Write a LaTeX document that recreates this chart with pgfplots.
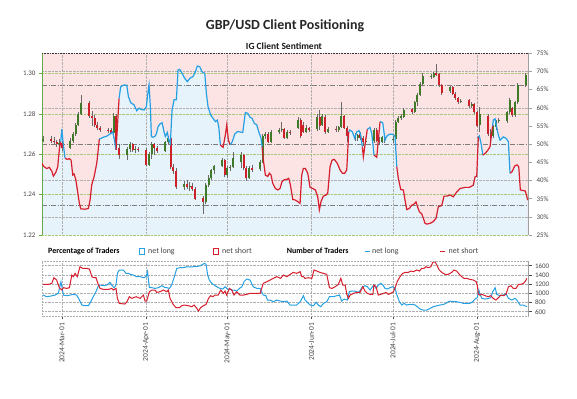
\documentclass[border=0pt]{standalone}
\usepackage{pgfplots}
\pgfplotsset{compat=1.18}
\usepackage{pgfplotstable}
\usepackage{fontspec}
\setmainfont{Carlito}

\definecolor{pinkbg}{RGB}{252,228,229}
\definecolor{bluebg}{RGB}{230,243,251}
\definecolor{lineblue}{RGB}{38,160,228}
\definecolor{linered}{RGB}{214,30,45}
\definecolor{candleup}{RGB}{62,122,40}
\definecolor{candledn}{RGB}{206,32,40}
\definecolor{wick}{RGB}{105,105,105}
\definecolor{axgreen}{RGB}{100,170,70}
\definecolor{gridgreen}{RGB}{165,200,120}
\definecolor{gridgray}{RGB}{175,175,175}
\definecolor{labgray}{RGB}{70,70,70}
\definecolor{ddgray}{RGB}{125,125,125}

\tikzset{dashdotline/.style={ddgray, line width=0.7bp, dash pattern=on 5bp off 1.5bp on 1bp off 1.5bp}}

% net long percentage (day 0 = 2024-03-01)
\pgfplotstableread{
d p
-7.49 44.7
-6.64 43.8
-5.64 43.3
-4.68 43.6
-3.80 42.6
-3.21 41.2
-2.32 42.2
-1.59 43.8
-1.00 48.6
-0.48 50.7
-0.11 54.1
0.48 49.8
1.11 46.1
1.95 45.8
2.69 46.0
3.32 45.6
3.95 41.5
4.42 41.8
5.05 40.3
5.64 37.4
6.38 33.7
6.90 32.2
8.48 32.1
9.70 32.3
10.32 34.6
10.95 38.8
11.80 41.0
12.79 44.7
13.38 48.8
13.75 51.4
15.23 51.9
16.48 52.2
17.70 52.8
18.69 53.4
19.28 51.3
19.91 48.4
21.02 62.6
21.64 65.8
22.86 66.3
23.86 66.2
24.45 63.1
25.33 61.4
26.55 60.8
27.54 59.2
28.39 59.9
29.02 59.6
30.24 59.4
31.08 60.3
31.71 64.4
32.08 66.3
32.56 60.3
32.93 52.1
33.55 51.9
34.18 52.1
34.77 52.8
35.40 54.8
36.03 55.5
36.87 55.9
37.61 53.4
38.09 52.1
38.83 53.2
39.34 51.2
39.93 50.2
40.56 59.4
41.30 62.2
42.15 62.2
42.77 70.4
43.40 70.6
44.25 69.5
45.24 68.1
46.20 67.2
47.09 68.1
48.30 68.6
49.15 69.9
49.89 71.5
50.77 71.3
51.62 69.9
52.62 69.5
53.21 64.0
53.83 60.3
54.83 58.0
55.68 57.1
56.53 56.2
57.26 56.6
57.78 54.8
58.37 49.8
59.37 49.1
60.21 52.5
60.73 55.3
61.32 51.2
61.95 49.8
62.79 50.7
63.68 52.8
64.64 53.4
65.38 53.4
66.63 53.2
67.59 58.7
68.47 58.5
69.32 57.4
70.06 57.1
70.91 55.7
71.79 55.3
72.53 53.4
73.38 51.6
73.75 49.3
74.23 45.6
74.96 41.5
75.85 41.1
76.44 42.0
77.06 41.5
77.69 39.2
78.65 37.8
79.54 37.4
80.38 37.8
81.12 39.7
81.97 40.2
82.85 40.3
83.59 40.6
84.18 38.8
85.07 34.8
86.03 34.6
86.91 34.2
87.76 33.7
88.38 41.5
88.97 43.3
89.71 43.3
90.60 42.0
91.45 38.1
92.44 37.8
93.40 37.4
94.28 35.5
94.87 31.9
95.50 34.2
96.35 35.7
97.35 36.0
97.97 36.5
98.82 43.8
99.56 45.6
100.41 45.8
101.51 44.7
102.51 42.9
103.36 42.0
104.24 42.0
104.98 42.9
105.71 53.4
106.08 53.9
107.04 53.4
107.93 51.6
108.67 53.4
109.51 53.7
110.14 52.5
110.73 49.3
111.10 46.5
111.99 51.2
112.57 54.1
113.57 54.6
114.20 53.0
115.04 47.0
116.04 46.4
116.63 51.1
117.26 56.2
118.25 55.9
119.10 51.1
119.73 52.2
120.69 52.7
121.94 52.7
122.79 52.2
123.42 43.8
124.00 40.6
124.89 37.5
125.85 37.4
126.47 34.6
127.10 32.0
128.06 32.3
128.95 33.2
129.79 33.5
130.53 34.1
131.01 32.9
131.75 31.4
132.63 30.8
133.22 29.6
133.85 28.2
134.48 28.0
135.69 28.2
136.91 28.7
137.91 29.6
138.75 32.8
140.00 33.1
140.86 35.7
141.85 35.7
143.07 36.0
144.29 35.5
145.28 36.6
146.76 37.8
148.60 38.1
150.18 38.1
151.66 38.7
152.29 41.0
152.91 41.2
153.50 52.0
153.87 52.3
154.61 49.8
155.13 47.0
156.08 47.5
157.08 48.4
157.82 49.3
158.74 55.0
159.03 56.6
159.66 57.0
160.88 52.5
161.50 51.1
162.72 52.0
163.72 51.6
164.57 50.7
165.19 42.0
165.93 42.4
166.92 44.0
167.77 44.3
168.40 43.8
168.99 37.4
170.24 37.2
170.83 37.1
171.72 34.6
}\sent

% GBP/USD daily candles: day open high low close
\pgfplotstableread{
d o h l c
-7 1.2668 1.2688 1.2660 1.2676
-4 1.2676 1.2690 1.2655 1.2668
-3 1.2668 1.2685 1.2652 1.2660
-2 1.2660 1.2672 1.2638 1.2650
-1 1.2650 1.2675 1.2630 1.2655
0 1.2655 1.2665 1.2615 1.2630
3 1.2630 1.2680 1.2625 1.2665
4 1.2665 1.2710 1.2658 1.2700
5 1.2700 1.2755 1.2692 1.2745
6 1.2745 1.2810 1.2738 1.2800
7 1.2800 1.2893 1.2792 1.2855
10 1.2855 1.2862 1.2780 1.2790
11 1.2790 1.2815 1.2740 1.2782
12 1.2782 1.2795 1.2735 1.2745
13 1.2745 1.2760 1.2720 1.2730
14 1.2730 1.2738 1.2712 1.2720
17 1.2720 1.2732 1.2706 1.2718
18 1.2718 1.2730 1.2698 1.2705
19 1.2705 1.2805 1.2680 1.2790
20 1.2790 1.2800 1.2620 1.2630
21 1.2630 1.2650 1.2575 1.2595
24 1.2595 1.2635 1.2570 1.2625
25 1.2625 1.2662 1.2610 1.2650
26 1.2650 1.2655 1.2612 1.2620
27 1.2620 1.2640 1.2605 1.2628
28 1.2628 1.2638 1.2610 1.2620
31 1.2620 1.2630 1.2540 1.2548
32 1.2548 1.2612 1.2542 1.2600
33 1.2600 1.2660 1.2578 1.2650
34 1.2650 1.2656 1.2595 1.2630
35 1.2630 1.2640 1.2608 1.2618
38 1.2618 1.2668 1.2612 1.2660
39 1.2660 1.2690 1.2650 1.2680
40 1.2680 1.2685 1.2525 1.2535
41 1.2535 1.2552 1.2500 1.2515
42 1.2515 1.2530 1.2430 1.2440
45 1.2440 1.2468 1.2425 1.2455
46 1.2455 1.2470 1.2430 1.2440
47 1.2440 1.2462 1.2420 1.2445
48 1.2445 1.2458 1.2418 1.2430
49 1.2430 1.2440 1.2372 1.2380
52 1.2385 1.2395 1.2305 1.2365
53 1.2365 1.2460 1.2355 1.2450
54 1.2450 1.2495 1.2440 1.2480
55 1.2480 1.2528 1.2470 1.2520
56 1.2520 1.2545 1.2500 1.2540
59 1.2540 1.2582 1.2535 1.2570
60 1.2570 1.2578 1.2485 1.2495
61 1.2495 1.2540 1.2480 1.2530
62 1.2530 1.2548 1.2515 1.2535
63 1.2535 1.2610 1.2530 1.2580
66 1.2560 1.2612 1.2530 1.2595
67 1.2595 1.2600 1.2520 1.2530
68 1.2530 1.2540 1.2468 1.2480
69 1.2480 1.2540 1.2475 1.2530
70 1.2530 1.2545 1.2510 1.2522
73 1.2525 1.2570 1.2515 1.2560
74 1.2560 1.2700 1.2555 1.2690
75 1.2690 1.2712 1.2675 1.2700
76 1.2700 1.2708 1.2655 1.2662
77 1.2662 1.2718 1.2658 1.2708
80 1.2708 1.2730 1.2700 1.2720
81 1.2720 1.2760 1.2710 1.2725
82 1.2725 1.2730 1.2675 1.2682
83 1.2682 1.2720 1.2678 1.2712
84 1.2712 1.2722 1.2695 1.2708
87 1.2730 1.2785 1.2725 1.2772
88 1.2772 1.2778 1.2680 1.2690
89 1.2745 1.2760 1.2705 1.2712
90 1.2712 1.2745 1.2705 1.2728
91 1.2728 1.2735 1.2710 1.2720
94 1.2725 1.2800 1.2715 1.2785
95 1.2785 1.2820 1.2720 1.2740
96 1.2745 1.2800 1.2740 1.2790
97 1.2785 1.2792 1.2700 1.2710
98 1.2710 1.2735 1.2705 1.2725
101 1.2725 1.2740 1.2712 1.2720
102 1.2720 1.2742 1.2710 1.2735
103 1.2735 1.2860 1.2730 1.2790
104 1.2790 1.2795 1.2725 1.2730
105 1.2730 1.2742 1.2662 1.2690
108 1.2690 1.2705 1.2668 1.2680
109 1.2680 1.2700 1.2665 1.2695
110 1.2700 1.2708 1.2670 1.2680
111 1.2680 1.2688 1.2640 1.2660
112 1.2660 1.2680 1.2650 1.2668
115 1.2668 1.2730 1.2655 1.2720
116 1.2720 1.2728 1.2660 1.2668
117 1.2668 1.2685 1.2645 1.2660
118 1.2660 1.2692 1.2655 1.2685
119 1.2685 1.2690 1.2655 1.2670
122 1.2670 1.2690 1.2658 1.2675
123 1.2675 1.2770 1.2668 1.2760
124 1.2760 1.2790 1.2755 1.2780
125 1.2780 1.2800 1.2770 1.2790
126 1.2785 1.2830 1.2780 1.2820
129 1.2822 1.2830 1.2800 1.2810
130 1.2810 1.2865 1.2805 1.2858
131 1.2858 1.2905 1.2840 1.2895
132 1.2895 1.2960 1.2890 1.2950
133 1.2950 1.3000 1.2940 1.2990
136 1.2985 1.2998 1.2975 1.2990
137 1.2985 1.3005 1.2978 1.3000
138 1.3000 1.3045 1.2990 1.2995
139 1.2998 1.3002 1.2935 1.2942
140 1.2942 1.2948 1.2895 1.2902
143 1.2915 1.2940 1.2905 1.2932
144 1.2935 1.2940 1.2895 1.2900
145 1.2900 1.2910 1.2870 1.2878
146 1.2878 1.2885 1.2850 1.2860
147 1.2860 1.2875 1.2852 1.2865
150 1.2870 1.2875 1.2830 1.2838
151 1.2838 1.2860 1.2830 1.2850
152 1.2850 1.2855 1.2800 1.2808
153 1.2808 1.2815 1.2735 1.2742
154 1.2745 1.2835 1.2710 1.2800
157 1.2790 1.2798 1.2690 1.2700
158 1.2700 1.2725 1.2670 1.2680
159 1.2690 1.2745 1.2680 1.2735
160 1.2735 1.2772 1.2720 1.2765
161 1.2765 1.2778 1.2755 1.2768
164 1.2765 1.2815 1.2755 1.2810
165 1.2810 1.2880 1.2800 1.2870
166 1.2830 1.2835 1.2785 1.2792
167 1.2792 1.2865 1.2785 1.2858
168 1.2860 1.2955 1.2850 1.2945
171 1.2945 1.3000 1.2935 1.2992
172 1.2995 1.2998 1.2980 1.2985
}\candles

% number of traders net long
\pgfplotstableread{
d v
-7.1 962
-5.6 926
-4.2 940
-2.6 962
-1.4 998
-0.4 1252
0.5 962
1.7 948
3.0 962
4.2 977
5.4 962
6.4 854
7.3 745
8.5 730
9.7 730
10.6 817
11.5 926
12.5 1035
13.4 1165
14.3 1180
15.2 1165
16.5 1180
17.7 1238
18.3 1180
19.2 1122
19.9 1180
20.4 1433
21.1 1506
22.6 1506
23.6 1433
24.5 1433
25.1 1412
26.3 1397
27.5 1361
28.8 1361
30.0 1339
31.0 1361
31.5 1470
32.2 1122
33.1 1122
34.3 1107
35.5 1122
36.8 1165
38.0 1122
38.6 1122
39.6 1107
40.4 1180
41.3 1339
42.3 1542
43.5 1556
44.7 1556
46.0 1578
47.2 1571
48.4 1578
49.7 1578
50.9 1600
51.9 1629
52.5 1651
53.1 1629
53.7 1397
54.3 1288
55.2 1216
56.1 1180
57.0 1143
58.3 1107
59.3 1093
60.1 1143
61.0 1093
61.7 1093
62.6 1071
63.4 1071
64.4 1049
65.4 1107
66.3 1143
67.1 1252
68.1 1310
69.3 1288
70.5 1143
71.8 1107
73.0 1107
74.2 962
75.2 948
75.7 854
76.7 854
77.9 817
79.2 854
80.4 832
81.6 817
82.9 832
84.1 745
85.3 745
86.5 745
87.8 817
89.0 948
89.6 854
91.5 745
92.7 730
93.7 803
94.5 745
95.4 709
96.4 781
97.6 817
98.6 926
100.0 926
101.3 948
102.3 962
103.1 832
104.0 875
105.2 854
105.9 1035
106.8 1049
108.0 1049
108.9 1020
109.6 1035
110.5 1122
111.7 1165
112.6 1143
113.6 1071
114.2 1122
115.0 1180
115.8 1107
116.6 1180
117.5 1216
118.3 1180
119.1 1107
120.0 1093
120.9 1122
121.9 1143
122.8 1107
123.4 977
124.4 817
125.3 745
126.1 781
127.1 745
128.1 759
129.3 759
130.2 745
131.0 709
132.0 658
133.2 636
134.5 636
135.7 672
136.9 709
138.2 730
139.4 745
140.6 759
141.6 781
142.4 817
143.3 832
144.3 817
145.5 817
146.8 803
148.0 781
149.2 781
150.4 781
151.4 817
152.3 875
153.1 904
153.7 1071
154.1 977
154.8 890
156.0 875
157.2 890
158.1 904
158.8 1035
159.7 1122
160.3 977
160.9 962
161.5 948
162.7 962
163.7 998
164.6 890
165.8 854
167.0 890
167.7 854
168.9 745
170.1 745
171.4 709
}\longs

% number of traders net short
\pgfplotstableread{
d v
-7.1 1194
-5.1 1194
-3.8 1216
-3.0 1339
-2.0 1288
-1.0 1122
-0.1 1071
0.5 1122
1.7 1107
2.7 1122
3.6 1397
4.2 1361
4.8 1433
5.6 1361
6.6 1578
7.6 1542
9.1 1542
10.1 1527
11.0 1361
11.8 1339
12.5 1339
13.4 1180
14.0 1107
15.2 1085
17.1 1085
18.3 1107
18.9 1071
19.9 1107
20.4 890
21.1 781
23.2 767
23.9 817
24.8 926
25.7 890
27.3 926
28.8 890
30.0 962
30.6 832
31.2 832
32.2 1035
33.1 1071
34.3 1071
34.9 1020
36.1 1035
37.4 1071
38.6 1035
39.2 1071
39.8 890
41.0 759
42.0 687
43.3 687
44.1 730
45.0 745
46.6 730
47.8 709
48.7 745
49.7 672
50.3 614
51.1 687
52.1 730
53.1 759
54.0 890
54.8 948
55.6 926
56.4 962
57.6 962
58.5 1071
59.5 998
60.1 1049
60.7 962
61.7 1107
62.6 1071
63.4 962
64.4 1035
65.6 962
66.9 962
68.1 977
69.3 998
71.2 998
73.0 998
73.6 1107
74.2 1216
75.5 1252
76.7 1288
77.9 1325
79.2 1361
80.6 1325
81.6 1397
82.9 1361
84.1 1412
85.3 1455
86.5 1433
87.8 1470
88.4 1361
89.0 1361
89.6 1325
90.8 1339
92.1 1325
92.9 1506
93.9 1484
95.1 1455
96.4 1433
97.6 1412
98.6 1122
99.5 1107
100.7 1143
101.9 1194
102.8 1325
103.5 1180
104.4 1180
105.0 977
105.6 890
106.2 962
107.4 998
108.7 1020
109.9 1020
110.9 1143
111.7 1049
112.6 998
113.6 977
114.6 977
115.0 1180
115.8 1143
116.6 962
117.5 977
118.5 998
119.5 1020
120.3 977
121.2 998
122.2 1035
122.8 1122
123.6 1252
124.6 1361
125.6 1433
126.5 1455
127.7 1455
128.6 1484
129.5 1470
130.8 1506
131.8 1484
132.6 1542
133.5 1542
134.2 1578
135.1 1556
136.0 1578
136.7 1672
137.5 1687
138.2 1614
139.1 1506
140.0 1455
141.2 1412
142.4 1412
143.7 1455
144.5 1506
145.5 1484
146.5 1412
147.4 1361
148.2 1325
149.2 1325
150.4 1303
151.7 1288
152.7 1252
153.1 1180
153.5 977
154.1 962
154.8 977
156.0 948
157.2 926
158.1 948
159.0 890
160.0 854
160.9 904
161.8 962
162.7 948
163.7 977
164.6 1143
165.5 1165
166.4 1107
167.4 1107
168.3 1194
169.1 1194
170.1 1216
170.7 1252
171.4 1325
}\shorts

\pgfplotsset{
  topbox/.style={scale only axis, width=486.5bp, height=181.7bp,
    at={(42bp,-235bp)}, anchor=south west, xmin=-7.4, xmax=172},
  ticklab/.style={ticklabel style={font=\fontsize{7}{8}\selectfont, text=labgray},
    /pgf/number format/assume math mode=true},
  redline/.style={linered, line width=1.2bp, mark=none},
  blueline/.style={lineblue, line width=1.2bp, mark=none},
}

\begin{document}
\begin{tikzpicture}
\fill[white] (0,0) rectangle (577bp,-399bp);
\useasboundingbox (0,0) rectangle (577bp,-399bp);

\node[font=\bfseries\fontsize{14}{16}\selectfont, text=black!85] at (285bp,-26bp) {GBP/USD Client Positioning};
\node[font=\bfseries\fontsize{9.5}{11}\selectfont, text=black!90] at (284bp,-46.5bp) {IG Client Sentiment};

% ---------- background: fills, percentage grid, reference lines
\begin{axis}[topbox, ymin=25, ymax=75, axis on top,
  axis line style={draw=none}, major tick length=0pt,
  xtick={0,31,61,92,122,153}, ytick={30,40,60,70},
  xticklabels={}, yticklabels={},
  grid=major, major grid style={gridgray, densely dotted, line width=0.5bp}]
  \fill[pinkbg] (axis cs:-7.4,25) rectangle (axis cs:172,75);
  \addplot[draw=none, fill=bluebg] table[x=d, y=p] {\sent} \closedcycle;
  \draw[dashdotline] (axis cs:-7.4,66.1) -- (axis cs:172,66.1);
  \draw[dashdotline] (axis cs:-7.4,50) -- (axis cs:172,50);
  \draw[dashdotline] (axis cs:-7.4,33.2) -- (axis cs:172,33.2);
\end{axis}

% ---------- price axis with candles
\begin{axis}[topbox, ticklab, ymin=1.22, ymax=1.31,
  axis x line=none, axis y line*=left,
  y axis line style={axgreen, line width=0.8bp},
  ytick={1.22,1.24,1.26,1.28,1.30}, xtick=\empty,
  yticklabel style={/pgf/number format/.cd, fixed, fixed zerofill, precision=2},
  tick align=outside, major tick length=3bp,
  ytick style={axgreen, line width=0.6bp},
  ymajorgrids, major grid style={gridgreen, densely dotted, line width=0.6bp},
  colormap={updown}{color=(candledn) color=(candleup)},
  point meta min=0, point meta max=1]
  % wicks: low to high
  \addplot[wick, line width=0.6bp, mark=none,
    quiver={u=0, v=\thisrow{h}-\thisrow{l}}]
    table[x=d, y=l] {\candles};
  % bodies: open to close, coloured by direction
  \addplot[line width=2bp, mark=none,
    point meta={\thisrow{c}-\thisrow{o}>-0.000001},
    quiver={u=0, v={max(abs(\thisrow{c}-\thisrow{o}),0.0003)}, colored}]
    table[x=d, y expr={min(\thisrow{o},\thisrow{c})}] {\candles};
\end{axis}

% ---------- sentiment line and percentage axis
\begin{axis}[topbox, ticklab, ymin=25, ymax=75, clip mode=individual,
  axis x line=none, axis y line*=right,
  y axis line style={gray!75, line width=0.6bp},
  xtick=\empty, ytick={25,30,35,40,45,50,55,60,65,70,75},
  yticklabels={25\%,30\%,35\%,40\%,45\%,50\%,55\%,60\%,65\%,70\%,75\%},
  yticklabel style={xshift=1.5bp},
  tick align=outside, major tick length=3bp,
  ytick style={gray!75, line width=0.6bp}]
  \addplot[redline, restrict x to domain=-7.6:-0.47] table[x=d,y=p]{\sent};
  \addplot[blueline, restrict x to domain=-0.49:1.12] table[x=d,y=p]{\sent};
  \addplot[redline, restrict x to domain=1.10:13.76] table[x=d,y=p]{\sent};
  \addplot[blueline, restrict x to domain=13.74:19.92] table[x=d,y=p]{\sent};
  \addplot[redline, restrict x to domain=19.90:21.03] table[x=d,y=p]{\sent};
  \addplot[blueline, restrict x to domain=21.01:58.38] table[x=d,y=p]{\sent};
  \addplot[redline, restrict x to domain=58.36:61.96] table[x=d,y=p]{\sent};
  \addplot[blueline, restrict x to domain=61.94:73.76] table[x=d,y=p]{\sent};
  \addplot[redline, restrict x to domain=73.74:105.72] table[x=d,y=p]{\sent};
  \addplot[blueline, restrict x to domain=105.70:110.74] table[x=d,y=p]{\sent};
  \addplot[redline, restrict x to domain=110.72:112.58] table[x=d,y=p]{\sent};
  \addplot[blueline, restrict x to domain=112.56:115.05] table[x=d,y=p]{\sent};
  \addplot[redline, restrict x to domain=115.03:117.27] table[x=d,y=p]{\sent};
  \addplot[blueline, restrict x to domain=117.25:123.43] table[x=d,y=p]{\sent};
  \addplot[redline, restrict x to domain=123.41:153.51] table[x=d,y=p]{\sent};
  \addplot[blueline, restrict x to domain=153.49:155.14] table[x=d,y=p]{\sent};
  \addplot[redline, restrict x to domain=155.12:158.75] table[x=d,y=p]{\sent};
  \addplot[blueline, restrict x to domain=158.73:165.20] table[x=d,y=p]{\sent};
  \addplot[redline, restrict x to domain=165.18:172] table[x=d,y=p]{\sent};
  \draw[gray!40!black, densely dotted, line width=0.6bp] (axis cs:-7.4,75) -- (axis cs:172,75);
\end{axis}

% ---------- number of traders
\begin{axis}[scale only axis, width=486.5bp, height=55bp,
  at={(42bp,-316bp)}, anchor=south west,
  xmin=-7.4, xmax=172, ymin=507, ymax=1702, clip mode=individual,
  ticklab,
  axis line style={draw=none},
  xtick={0,31,61,92,122,153},
  xticklabels={2024-Mar-01,2024-Apr-01,2024-May-01,2024-Jun-01,2024-Jul-01,2024-Aug-01},
  xticklabel style={rotate=90, anchor=east, inner xsep=4bp, font=\fontsize{7.5}{8}\selectfont},
  ytick={600,800,1000,1200,1400,1600},
  yticklabel style={/pgf/number format/.cd, 1000 sep={}},
  xtick pos=left, ytick pos=right, yticklabel pos=right,
  tick align=outside, major tick length=3bp,
  tick style={gray!60!black, line width=0.6bp},
  grid=major, major grid style={gridgray, densely dotted, line width=0.5bp},
  legend columns=6,
  legend style={at={(axis description cs:0,1)}, anchor=south west,
    xshift=6bp, yshift=5bp, draw=none, fill=none, inner sep=0pt,
    column sep=0pt, font=\fontsize{8}{9}\selectfont, text=labgray,
    nodes={inner xsep=0pt, inner ysep=1bp}},
  legend cell align=left]
  \addlegendimage{empty legend}
  \addlegendentry{\textcolor{black}{\bfseries Percentage of Traders}\rule{19bp}{0bp}}
  \addlegendimage{legend image code/.code={\draw[lineblue, line width=1bp, fill=white] (0.5bp,-2.8bp) rectangle (6bp,2.8bp);}}
  \addlegendentry{\rule{3bp}{0bp}net long\rule{38bp}{0bp}}
  \addlegendimage{legend image code/.code={\draw[linered, line width=1bp, fill=white] (0.5bp,-2.8bp) rectangle (6bp,2.8bp);}}
  \addlegendentry{\rule{3bp}{0bp}net short\rule{35bp}{0bp}}
  \addlegendimage{empty legend}
  \addlegendentry{\textcolor{black}{\bfseries Number of Traders}\rule{16bp}{0bp}}
  \addlegendimage{legend image code/.code={\draw[lineblue, line width=1bp] (0bp,0bp) -- (4.5bp,0bp);}}
  \addlegendentry{\rule{2bp}{0bp}net long\rule{41bp}{0bp}}
  \addlegendimage{legend image code/.code={\draw[linered, line width=1bp] (0bp,0bp) -- (5bp,0bp);}}
  \addlegendentry{\rule{3bp}{0bp}net short}

  \addplot[lineblue, line width=1bp, mark=none, forget plot] table[x=d, y=v] {\longs};
  \addplot[linered, line width=1bp, mark=none, forget plot] table[x=d, y=v] {\shorts};
  \draw[gridgray, densely dotted, line width=0.5bp] (axis cs:-7.4,507) rectangle (axis cs:172,1702);
  \draw[gray!75, line width=0.6bp] (axis cs:172,507) -- (axis cs:172,1702);
\end{axis}
\end{tikzpicture}
\end{document}
